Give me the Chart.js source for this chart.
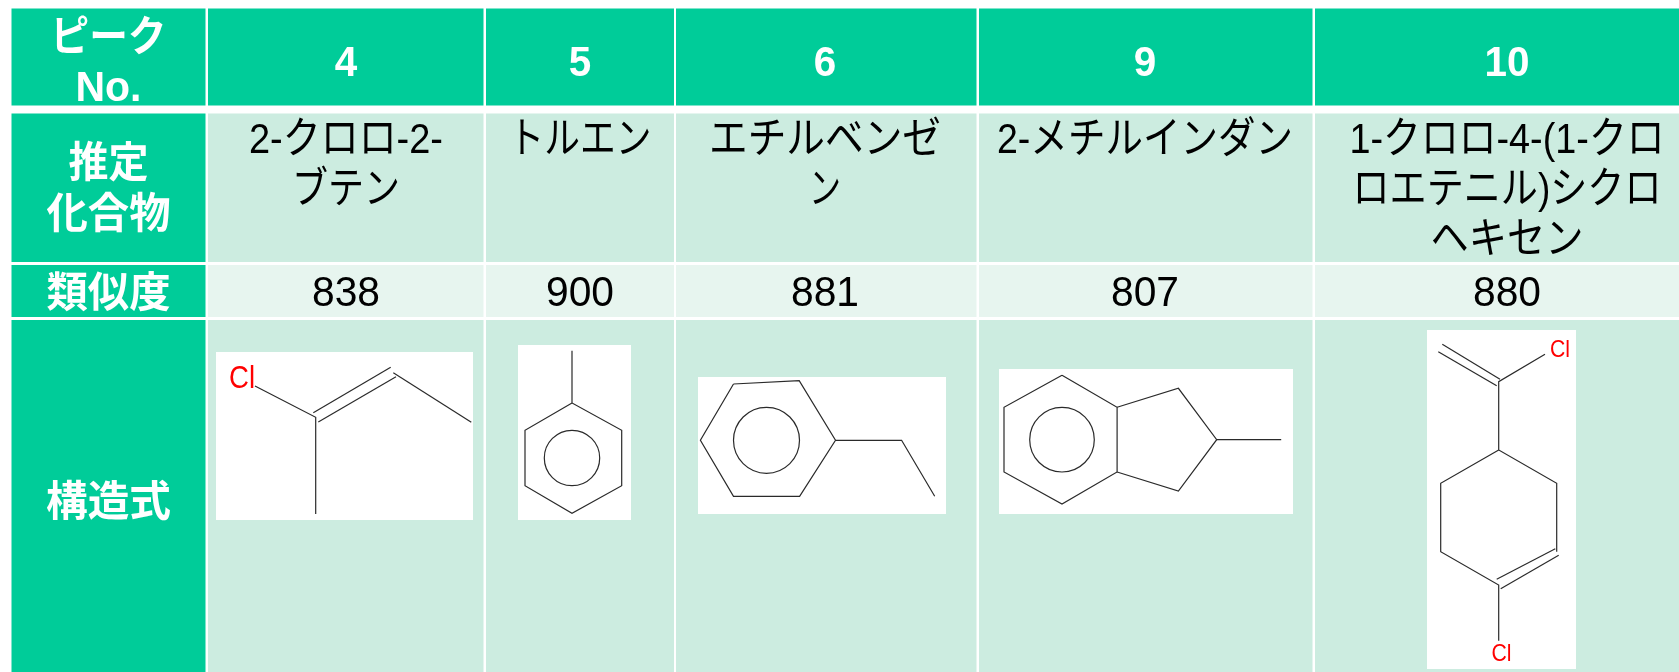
<!DOCTYPE html>
<html>
<head>
<meta charset="utf-8">
<style>
  html, body { margin: 0; padding: 0; background: #fff; }
  canvas { display: block; }
</style>
<script src="https://cdn.jsdelivr.net/npm/chart.js@4"></script>
</head>
<body>
<canvas id="chart" width="1679" height="672"></canvas>
<script>
// table content
const peakHead = ['ピーク', 'No.'];
const compoundHead = ['推定', '化合物'];
const similarityHead = '類似度';
const structureHead = '構造式';
const peaks = ['4', '5', '6', '9', '10'];
const compounds = [
  ['2-クロロ-2-', 'ブテン'],
  ['トルエン'],
  ['エチルベンゼ', 'ン'],
  ['2-メチルインダン'],
  ['1-クロロ-4-(1-クロ', 'ロエテニル)シクロ', 'ヘキセン']
];
const similarity = [838, 900, 881, 807, 880];

// structural formulas, bond paths in picture units
const bonds = [
  [[255,386],[315.7,417.3],[315.7,514]],
  [[313.3,412.7],[390.7,367.3]],
  [[318.3,422],[396,376.7]],
  [[393.3,372.7],[471.3,422.3]],

  [[572,350.7],[572,403],[621.7,430.3],[621.7,485.7],[572,513.3],[525,485.7],[525,430.3],[572,403]],

  [[733.5,384],[799.2,380.7],[835.5,440.3],[799.6,496.3],[733.5,496.3],[700.4,440.3],[733.5,384]],
  [[835.5,440.3],[901.6,440.3],[934.7,496.3]],

  [[1062,375.3],[1117.1,407.3],[1117.1,472],[1062,504],[1004,472],[1004,407.3],[1062,375.3]],
  [[1117.1,407.3],[1178.4,388.3],[1216.7,439.7],[1178.4,491],[1117.1,472]],
  [[1216.7,439.7],[1281.2,439.7]],

  [[1442.3,344.3],[1500,379.3]],
  [[1438.3,351.7],[1496.7,385.7]],
  [[1545,354.3],[1498.7,381.7],[1498.7,450],[1556.7,483.3],[1556.7,551.7]],
  [[1498.7,450],[1440.7,483.3],[1440.7,551.7],[1498.7,585],[1498.7,640.7]],
  [[1496.7,579.3],[1555.3,548.7]],
  [[1500.7,588.7],[1558.7,555.3]]
];
const aromaticRings = [
  { x: 572, y: 458, r: 27.7 },
  { x: 766.5, y: 440.3, r: 33 },
  { x: 1062, y: 439.7, r: 32.3 }
];
const chlorines = [
  { x: 242, y: 379, size: 31, width: 26 },
  { x: 1560, y: 350, size: 24, width: 20 },
  { x: 1501.5, y: 654, size: 24, width: 20 }
];

// layout
const colLeft = [11.5, 208, 486, 676, 979, 1315];
const colRight = [205.5, 483.5, 674, 976.5, 1312.5, 1679];
const rowTop = [8.5, 113.5, 265, 320];
const rowBottom = [105.5, 262, 317, 672];
const colCenter = [108.5, 346, 580, 825, 1145, 1507];
const rowFill = ['#00CC99', '#CCECE0', '#E7F5EF', '#CCECE0'];
const whiteBoxes = [
  [216, 352, 473, 520],
  [518, 345, 631, 520],
  [698, 377, 946, 514],
  [999, 369, 1293, 514],
  [1427, 330, 1576, 669]
];
const nameWidths = [[194, 108], [143], [232, 32], [296], [315, 309, 153]];
const nameLineY = [141, 191, 241];

const latinJp = '"Liberation Sans", "Noto Sans CJK JP"';

const tablePlugin = {
  id: 'table',
  beforeDatasetsDraw(chart) {
    const { ctx, scales: { x, y } } = chart;
    ctx.save();
    rowTop.forEach(function(top, r) {
      colLeft.forEach(function(left, c) {
        const x0 = x.getPixelForValue(left), x1 = x.getPixelForValue(colRight[c]);
        const y0 = y.getPixelForValue(top), y1 = y.getPixelForValue(rowBottom[r]);
        ctx.fillStyle = c === 0 ? rowFill[0] : rowFill[r];
        ctx.fillRect(x0, y0, x1 - x0, y1 - y0);
      });
    });
    ctx.fillStyle = '#fff';
    whiteBoxes.forEach(function(b) {
      const x0 = x.getPixelForValue(b[0]), y0 = y.getPixelForValue(b[1]);
      ctx.fillRect(x0, y0, x.getPixelForValue(b[2]) - x0, y.getPixelForValue(b[3]) - y0);
    });
    ctx.restore();
  },
  afterDatasetsDraw(chart) {
    const { ctx, scales: { x, y } } = chart;
    const put = function(text, cx, cy, maxW) {
      ctx.fillText(text, x.getPixelForValue(cx), y.getPixelForValue(cy), maxW);
    };
    ctx.save();
    ctx.textAlign = 'center';
    ctx.textBaseline = 'middle';

    // header row and first column
    ctx.fillStyle = '#fff';
    ctx.font = 'bold 42px ' + latinJp;
    put(peakHead[0], colCenter[0], 39, 116);
    put(peakHead[1], colCenter[0], 89, 66);
    put(compoundHead[0], colCenter[0], 165, 80);
    put(compoundHead[1], colCenter[0], 216, 124);
    put(similarityHead, colCenter[0], 295, 124);
    put(structureHead, colCenter[0], 504, 125);
    ctx.font = 'bold 43px ' + latinJp;
    peaks.forEach(function(p, i) { put(p, colCenter[i + 1], 64, p.length * 22.5); });

    // body
    ctx.fillStyle = '#000';
    ctx.font = '43px ' + latinJp;
    compounds.forEach(function(lines, i) {
      lines.forEach(function(line, k) {
        put(line, colCenter[i + 1], nameLineY[k], nameWidths[i][k]);
      });
    });
    similarity.forEach(function(v, i) { put(String(v), colCenter[i + 1], 294, 68); });

    // chlorine labels
    ctx.fillStyle = '#FF0000';
    chlorines.forEach(function(c) {
      ctx.font = c.size + 'px "Liberation Sans"';
      put('Cl', c.x, c.y, c.width);
    });
    ctx.restore();
  }
};

const bondSets = bonds.map(function(path) {
  return {
    data: path.map(function(p) { return { x: p[0], y: p[1] }; }),
    showLine: true,
    borderColor: '#2a2a2a',
    borderWidth: 1.2,
    pointRadius: 0,
    tension: 0,
    fill: false
  };
});
const ringSet = {
  data: aromaticRings.map(function(r) { return { x: r.x, y: r.y }; }),
  showLine: false,
  pointStyle: 'circle',
  pointRadius: aromaticRings.map(function(r) { return r.r; }),
  pointBackgroundColor: 'rgba(0,0,0,0)',
  pointBorderColor: '#2a2a2a',
  pointBorderWidth: 1.2
};

new Chart(document.getElementById('chart').getContext('2d'), {
  type: 'scatter',
  data: { datasets: bondSets.concat([ringSet]) },
  options: {
    responsive: false,
    animation: false,
    events: [],
    layout: { padding: 0, autoPadding: false },
    plugins: { legend: { display: false }, tooltip: { enabled: false }, title: { display: false } },
    scales: {
      x: { type: 'linear', min: 0, max: 1679, display: false },
      y: { type: 'linear', min: 0, max: 672, reverse: true, display: false }
    }
  },
  plugins: [tablePlugin]
});
</script>
</body>
</html>
